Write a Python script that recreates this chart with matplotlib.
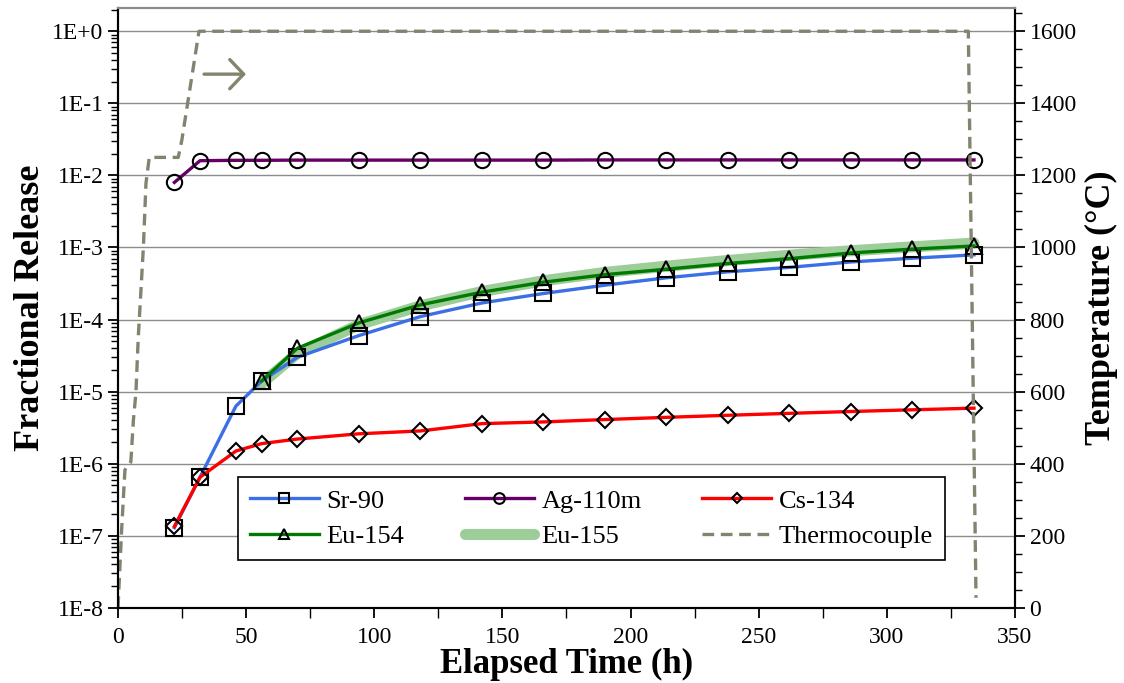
import numpy as np
import matplotlib
matplotlib.use('Agg')
import matplotlib.pyplot as plt
from matplotlib.ticker import LogLocator, MultipleLocator, FixedLocator, NullFormatter

plt.rcParams['font.family'] = ['Liberation Serif', 'DejaVu Serif']

# sampling times (h)
t = [22, 32, 46, 56, 70, 94, 118, 142, 166, 190, 214, 238, 262, 286, 310, 334]

sr90 = [1.3e-7, 6.5e-7, 6.3e-6, 1.4e-5, 3.0e-5, 6.0e-5, 1.1e-4, 1.7e-4, 2.3e-4,
        3.0e-4, 3.8e-4, 4.6e-4, 5.3e-4, 6.3e-4, 7.1e-4, 7.9e-4]
ag110m = [8.0e-3, 1.6e-2, 1.62e-2, 1.62e-2, 1.63e-2, 1.63e-2, 1.63e-2, 1.63e-2, 1.63e-2,
          1.64e-2, 1.64e-2, 1.64e-2, 1.64e-2, 1.64e-2, 1.64e-2, 1.64e-2]
cs134 = [1.35e-7, 6.5e-7, 1.5e-6, 1.9e-6, 2.2e-6, 2.6e-6, 2.85e-6, 3.6e-6, 3.8e-6,
         4.1e-6, 4.4e-6, 4.7e-6, 5.0e-6, 5.3e-6, 5.6e-6, 5.9e-6]

t_eu = [56, 70, 94, 118, 142, 166, 190, 214, 238, 262, 286, 310, 334]
eu154 = [1.4e-5, 4.0e-5, 9.0e-5, 1.6e-4, 2.4e-4, 3.3e-4, 4.2e-4, 5.0e-4, 6.0e-4,
         7.0e-4, 8.4e-4, 9.5e-4, 1.05e-3]
eu155 = [1.3e-5, 3.4e-5, 8.5e-5, 1.55e-4, 2.45e-4, 3.45e-4, 4.5e-4, 5.5e-4, 6.6e-4,
         7.8e-4, 9.0e-4, 1.02e-3, 1.15e-3]

# thermocouple trace (deg C)
t_tc = [0, 1.4, 2.7, 5.0, 6.0, 7.0, 7.9, 9.9, 10.9, 12.2, 23.5, 24.9, 31.6, 331.8, 334.8]
temp_tc = [0, 216, 383, 405, 521, 599, 751, 1001, 1178, 1250, 1250, 1298, 1600, 1600, 28]

fig = plt.figure(figsize=(11.24, 6.83), dpi=100)
ax = fig.add_axes([0.105, 0.11, 0.798, 0.878])
ax2 = ax.twinx()

mk = dict(markerfacecolor='none', markeredgecolor='black', markeredgewidth=1.5)
l_eu155, = ax.plot(t_eu, eu155, color='#9dcd98', lw=8, solid_capstyle='round',
                   label='Eu-155', zorder=1)
l_sr, = ax.plot(t, sr90, color='#3b6fe6', lw=2.4, marker='s', markersize=11,
                label='Sr-90', zorder=3, **mk)
l_ag, = ax.plot(t, ag110m, color='#660066', lw=2.4, marker='o', markersize=11,
                label='Ag-110m', zorder=3, **mk)
l_cs, = ax.plot(t, cs134, color='#ff0000', lw=2.4, marker='D', markersize=8,
                label='Cs-134', zorder=3, **mk)
l_eu154, = ax.plot(t_eu, eu154, color='#007a00', lw=2.4, marker='^', markersize=11,
                   label='Eu-154', zorder=4, **mk)

l_tc, = ax2.plot(t_tc, temp_tc, color='#84836f', lw=2.4, ls=(0, (3.5, 2)),
                 label='Thermocouple')
ax2.annotate('', xy=(51, 1481), xytext=(32.5, 1481),
             arrowprops=dict(arrowstyle='->,head_length=1.0,head_width=1.05',
                             color='#84836f', lw=2.4))

ax.set_yscale('log')
ax.set_xlim(0, 350)
ax.set_ylim(1e-8, 10 ** 0.32)
ax2.set_ylim(0, 1664)

ax.yaxis.set_major_locator(FixedLocator([10.0 ** k for k in range(-8, 1)]))
ax.set_yticklabels(['1E%+d' % k if k == 0 else '1E%d' % k for k in range(-8, 1)])
ax.yaxis.set_minor_locator(LogLocator(base=10, subs=np.arange(2, 10), numticks=20))
ax.yaxis.set_minor_formatter(NullFormatter())
ax.xaxis.set_major_locator(MultipleLocator(50))
ax.xaxis.set_minor_locator(MultipleLocator(25))
ax2.yaxis.set_major_locator(MultipleLocator(200))
ax2.yaxis.set_minor_locator(MultipleLocator(50))

ax.grid(True, which='major', axis='y', color='#8c8c8c', lw=1)
ax.set_axisbelow(True)

for a in (ax, ax2):
    a.tick_params(which='major', direction='out', length=7, width=1.3, labelsize=17)
    a.tick_params(which='minor', direction='out', length=5, width=1)
    for s in a.spines.values():
        s.set_linewidth(1.5)
    a.spines['top'].set_color('#8c8c8c')
ax.tick_params(axis='x', which='minor', length=7)
ax.tick_params(axis='x', pad=7)

ax.set_xlabel('Elapsed Time (h)', fontsize=25, fontweight='bold', labelpad=0)
ax.set_ylabel('Fractional Release', fontsize=26, fontweight='bold', labelpad=4)
ax2.set_ylabel('Temperature (\u00b0C)', fontsize=26, fontweight='bold', labelpad=6)

handles = [l_sr, l_eu154, l_ag, l_eu155, l_cs, l_tc]
leg = ax2.legend(handles=handles, labels=[h.get_label() for h in handles], ncol=3,
                 loc='lower left', bbox_to_anchor=(0.134, 0.08, 0.788, 0.137),
                 mode='expand', fontsize=19, frameon=True, fancybox=False,
                 edgecolor='black', handlelength=2.6, handletextpad=0.3,
                 borderaxespad=0, labelspacing=0.45, borderpad=0.45, markerscale=0.7)
leg.get_frame().set_linewidth(1.2)
leg.get_frame().set_alpha(1)

fig.savefig('out.png', dpi=100)
